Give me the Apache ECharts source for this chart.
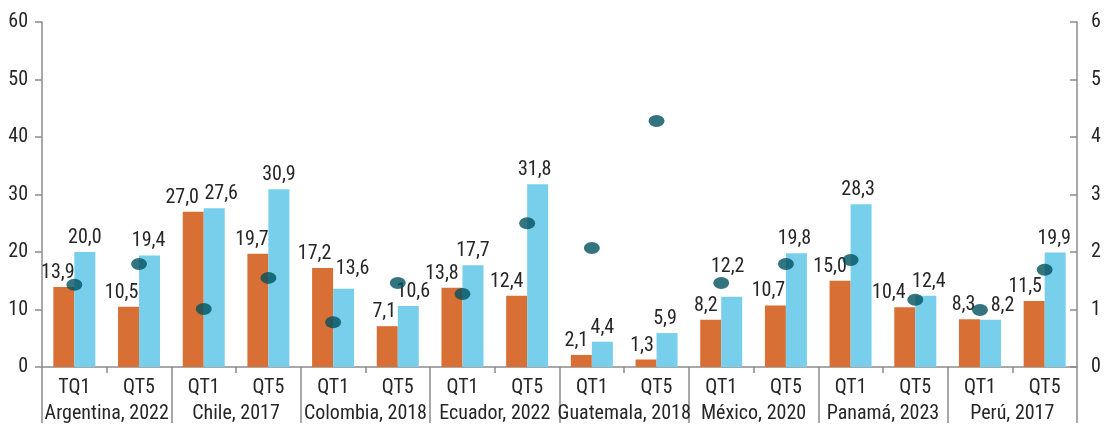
<!DOCTYPE html>
<html><head><meta charset="utf-8">
<style>html,body{margin:0;padding:0;background:#fff}#c{width:1104px;height:424px}</style>
<script src="https://cdn.jsdelivr.net/npm/echarts@6/dist/echarts.min.js"></script>
</head><body><div id="c"></div>
<script>
const quintiles = ['TQ1','QT5','QT1','QT5','QT1','QT5','QT1','QT5','QT1','QT5','QT1','QT5','QT1','QT5','QT1','QT5'];
const countries = ['Argentina, 2022','Chile, 2017','Colombia, 2018','Ecuador, 2022','Guatemala, 2018','México, 2020','Panamá, 2023','Perú, 2017'];
const orangeValues = [13.9,10.5,27.0,19.7,17.2,7.1,13.8,12.4,2.1,1.3,8.2,10.7,15.0,10.4,8.3,11.5];
const blueValues = [20.0,19.4,27.6,30.9,13.6,10.6,17.7,31.8,4.4,5.9,12.2,19.8,28.3,12.4,8.2,19.9];
const dotValues = [1.43,1.79,1.01,1.55,0.78,1.46,1.27,2.50,2.07,4.28,1.46,1.79,1.86,1.17,0.99,1.69];
const leftTicks = [0,10,20,30,40,50,60];
const rightTicks = [0,1,2,3,4,5,6];

// label nudges (pixels) – presentation only
const orangeDx = [-6,-7,-11,-6,-8,-3,-10,-10,-5,-4,-5,-7,-10,-16,-6,-9];
const blueDx = [0,-1,7,0,9,5,0,-3,0,-2,-4,-2,-3,3,12,-1];
const blueDy = [0,0,0,0,-6,0,0,0,0,0,-16,0,0,0,0,0];
const orangeDy = [0,0,0,0,0,0,0,0,0,0,0,0,0,0,0,0];

const FONT = '"Roboto Condensed","Roboto",sans-serif';
const FS = 20;
const TXT = '#262626';
const AX = '#8c8c8c';
const fmt = v => v.toFixed(1).replace('.', ',');

function mk(values, dx, dy) {
  return values.map((v, i) => ({
    value: v,
    label: { offset: [dx[i], dy[i]] }
  }));
}

const chart = echarts.init(document.getElementById('c'), null, {renderer: 'canvas'});
chart.setOption({
  animation: false,
  textStyle: { fontFamily: FONT },
  grid: { left: 42, right: 27, top: 22, bottom: 55, containLabel: false },
  xAxis: [
    {
      type: 'category', data: quintiles, position: 'bottom',
      axisLine: { lineStyle: { color: AX, width: 1.5 } },
      axisTick: { show: true, interval: 0, length: 6, lineStyle: { color: AX, width: 1.5 } },
      axisLabel: { interval: 0, margin: 11, color: TXT, fontSize: FS, fontFamily: FONT }
    },
    {
      type: 'category', data: countries, position: 'bottom',
      axisLine: { show: false },
      axisTick: { show: true, interval: 0, length: 56, lineStyle: { color: AX, width: 1.5 } },
      axisLabel: { interval: 0, margin: 37, color: TXT, fontSize: FS, fontFamily: FONT }
    }
  ],
  yAxis: [
    {
      type: 'value', min: 0, max: 60, interval: 10, position: 'left',
      splitLine: { show: false },
      axisLine: { show: true, lineStyle: { color: AX, width: 1.5 } },
      axisTick: { show: true, length: 7, lineStyle: { color: AX, width: 1.5 } },
      axisLabel: { color: TXT, fontSize: FS, margin: 14, fontFamily: FONT,
        formatter: v => leftTicks.includes(v) ? String(v) : '' }
    },
    {
      type: 'value', min: 0, max: 6, interval: 1, position: 'right',
      splitLine: { show: false },
      axisLine: { show: true, lineStyle: { color: AX, width: 1.5 } },
      axisTick: { show: true, inside: true, length: 7, lineStyle: { color: AX, width: 1.5 } },
      axisLabel: { color: TXT, fontSize: FS, margin: 14, fontFamily: FONT,
        formatter: v => rightTicks.includes(v) ? String(v) : '' }
    }
  ],
  series: [
    {
      type: 'bar', xAxisIndex: 0, yAxisIndex: 0, barWidth: 21, barGap: '0%',
      data: mk(orangeValues, orangeDx, orangeDy),
      itemStyle: { color: '#D87035' },
      label: { show: true, position: 'top', distance: 4, color: TXT, fontSize: FS, fontFamily: FONT,
        formatter: p => fmt(p.value) }
    },
    {
      type: 'bar', xAxisIndex: 0, yAxisIndex: 0, barWidth: 21, barGap: '0%',
      data: mk(blueValues, blueDx, blueDy),
      itemStyle: { color: '#77CFEC' },
      label: { show: true, position: 'top', distance: 4, color: TXT, fontSize: FS, fontFamily: FONT,
        formatter: p => fmt(p.value) }
    },
    {
      type: 'scatter', xAxisIndex: 0, yAxisIndex: 1, z: 5,
      symbol: 'circle', symbolSize: [16, 12],
      data: dotValues,
      itemStyle: { color: '#01515F' }
    }
  ]
});
</script></body></html>
